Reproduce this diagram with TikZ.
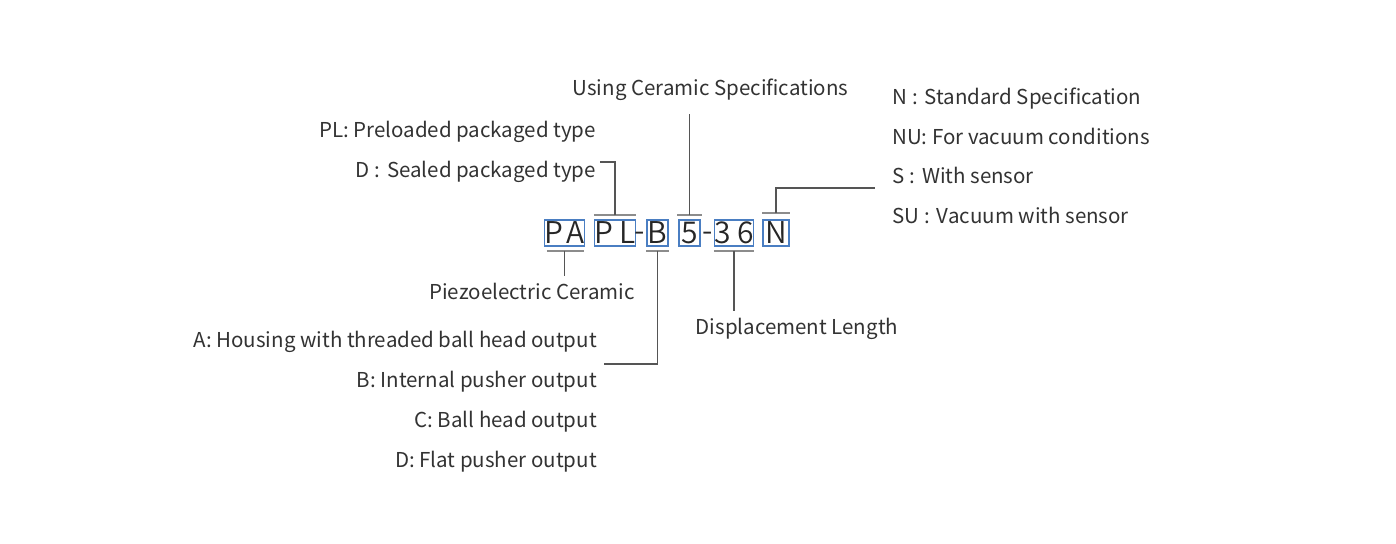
\documentclass[tikz,border=0pt]{standalone}
\usepackage{fontspec}
\setmainfont{Noto Sans CJK SC}
\newfontfamily\codefont{Noto Sans CJK SC DemiLight}
\definecolor{txtc}{HTML}{333333}
\definecolor{boxc}{HTML}{4A7EC2}
\definecolor{barc}{HTML}{8C8C8C}
\definecolor{connc}{HTML}{555555}
\newcommand{\wcol}{\kern5pt:\kern7pt}
\tikzset{
  lbl/.style={inner sep=0pt, text=txtc, font=\fontsize{20.5}{20.5}\selectfont},
  codebox/.style={draw=boxc, line width=1.3pt, inner sep=0pt, minimum height=26pt,
    text=black!85, font=\codefont\fontsize{30}{30}\selectfont},
  dashnode/.style={inner sep=0pt, text=black!85, font=\codefont\fontsize{30}{30}\selectfont},
  bar/.style={draw=barc, line width=2pt},
  conn/.style={draw=connc, line width=1.2pt},
}
\begin{document}
\begin{tikzpicture}[x=1pt,y=-1pt]
\useasboundingbox[fill=white] (0,0) rectangle (1396,543);

% code boxes
\node[codebox, minimum width=37pt] (pa) at (564.5,233) {P\hspace{3pt}A};
\node[codebox, minimum width=36pt] (pl) at (615,233) {P\hspace{6pt}L};
\node[dashnode] (d1) at (640,237) {-};
\node[codebox, minimum width=21pt] (b) at (657.5,233) {B};
\node[codebox, minimum width=21pt] (five) at (689.5,233) {5};
\node[dashnode] (d2) at (707.5,237) {-};
\node[codebox, minimum width=38pt] (tsix) at (734,233) {3\hspace{6pt}6};
\node[codebox, minimum width=26pt] (n) at (776,233) {N};

% labels
\node[lbl, anchor=base] (using) at (710.5,95) {Using Ceramic Specifications};
\node[lbl, anchor=base east] (plt) at (596,137.5) {PL: Preloaded packaged type};
\node[lbl, anchor=base east] (dt) at (596,177.5) {D\wcol Sealed packaged type};
\node[lbl, anchor=base] (piezo) at (532,299) {Piezoelectric Ceramic};
\node[lbl, anchor=base] (disp) at (797,334) {Displacement Length};
\node[lbl, anchor=base east] (at) at (597,347) {A: Housing with threaded ball head output};
\node[lbl, anchor=base east] (bt) at (597,387) {B: Internal pusher output};
\node[lbl, anchor=base east] (ct) at (597,427) {C: Ball head output};
\node[lbl, anchor=base east] (ft) at (597,467) {D: Flat pusher output};
\node[lbl, anchor=base west] (nt) at (892,104.5) {N\wcol Standard Specification};
\node[lbl, anchor=base west] (nut) at (892,144) {NU: For vacuum conditions};
\node[lbl, anchor=base west] (st) at (892,183.5) {S\wcol With sensor};
\node[lbl, anchor=base west] (sut) at (892,223) {SU\wcol Vacuum with sensor};

% bars
\draw[bar] ([xshift=3pt,yshift=-4pt]pa.south west) -- ([xshift=-1pt,yshift=-4pt]pa.south east);
\draw[bar] ([yshift=4pt]pl.north west) -- ([yshift=4pt]pl.north east);
\draw[bar] ([yshift=-4pt]b.south west) -- ([yshift=-4pt]b.south east);
\draw[bar] ([xshift=-1pt,yshift=4pt]five.north west) -- ([xshift=1pt,yshift=4pt]five.north east);
\draw[bar] ([yshift=-4pt]tsix.south west) -- ([yshift=-4pt]tsix.south east);
\draw[bar] ([yshift=6pt]n.north west) -- ([yshift=6pt]n.north east);

% connector end points
\coordinate (paE) at (564.5,276);
\coordinate (plE) at (600,162);
\coordinate (bE) at (604,364);
\coordinate (fiveE) at (689.5,114);
\coordinate (tsixE) at (734,311);
\coordinate (nE) at (875,188);

% connectors
\draw[conn] ([yshift=-4pt]pa.south) -- (paE);
\draw[conn] ([yshift=4pt]pl.north) |- (plE);
\draw[conn] ([yshift=-4pt]b.south) |- (bE);
\draw[conn] ([yshift=4pt]five.north) -- (fiveE);
\draw[conn] ([yshift=-4pt]tsix.south) -- (tsixE);
\draw[conn] ([yshift=6pt]n.north) |- (nE);
\end{tikzpicture}
\end{document}
